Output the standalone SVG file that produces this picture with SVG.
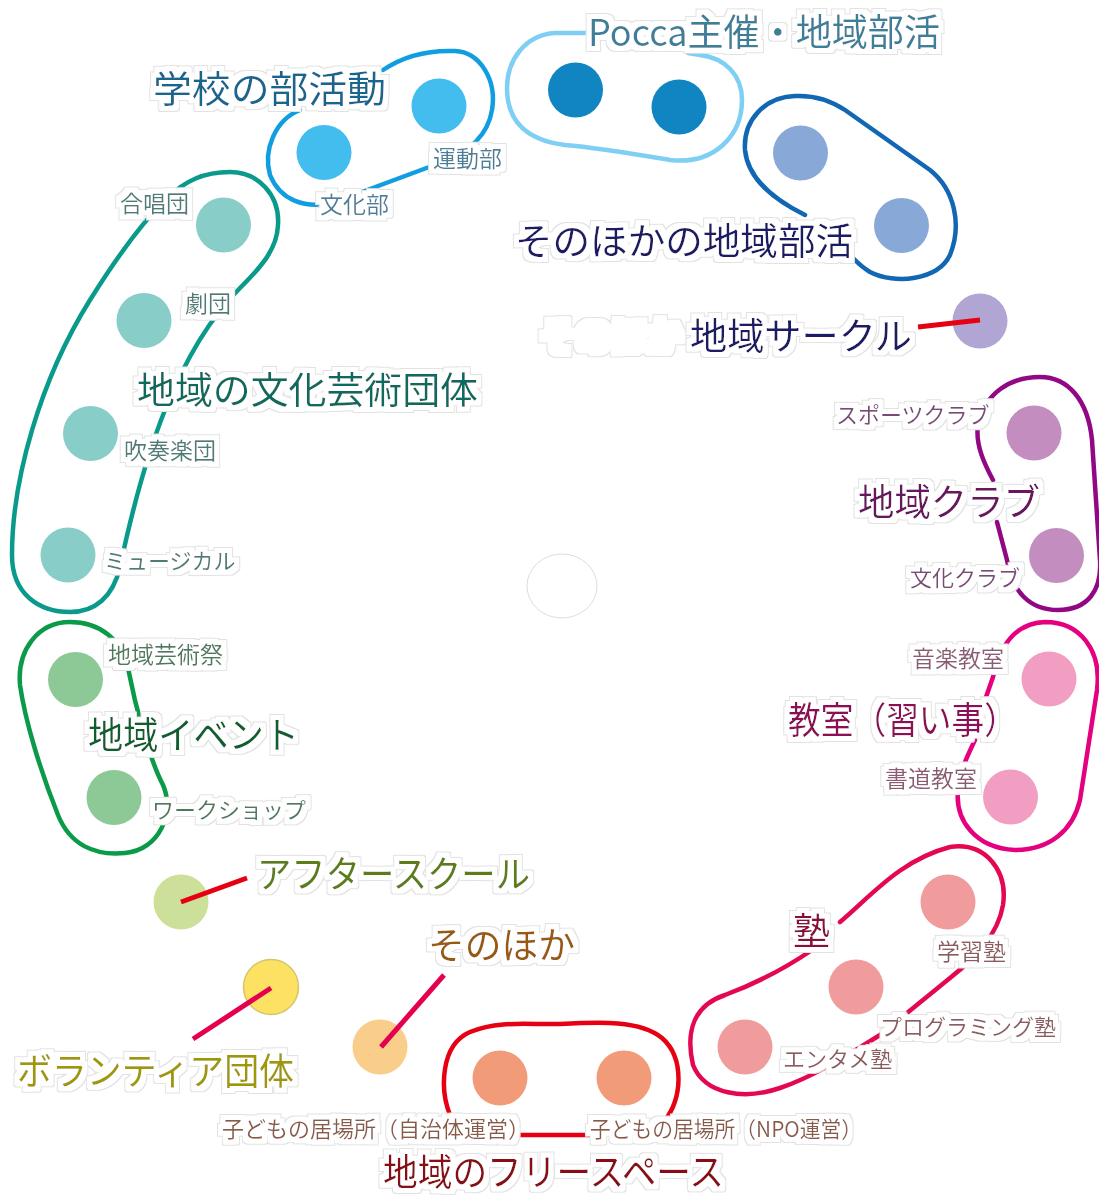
<svg xmlns="http://www.w3.org/2000/svg" width="1099" height="1195" viewBox="0 0 1099 1195">
<defs>
<filter id="halo" x="-30%" y="-40%" width="160%" height="180%">
<feMorphology in="SourceAlpha" operator="dilate" radius="5.5" result="d1"/>
<feMorphology in="SourceAlpha" operator="dilate" radius="4.5" result="d2"/>
<feFlood flood-color="#e2e2e2" result="g"/>
<feComposite in="g" in2="d1" operator="in" result="gray"/>
<feFlood flood-color="#ffffff" result="w"/>
<feComposite in="w" in2="d2" operator="in" result="white"/>
<feMerge><feMergeNode in="gray"/><feMergeNode in="white"/><feMergeNode in="SourceGraphic"/></feMerge>
</filter>
</defs>
<style>
text{font-family:"Noto Sans CJK JP","Noto Sans",sans-serif;filter:url(#halo)}
.big{font-size:37px}
.sm{font-size:23px}
.sk{font-size:22px}
.loop{fill:none;stroke-width:4.5;stroke-linecap:round;stroke-linejoin:round}
.con{stroke-width:5;fill:none}
</style>
<rect width="1099" height="1195" fill="#ffffff"/>

<g id="center"><ellipse cx="562" cy="586" rx="35" ry="32" fill="#ffffff" stroke="#dddddd" stroke-width="1"/></g>

<g id="pocca">
<path class="loop" stroke="#7fcff4" d="M588,33 L555,33 C525,35 507,60 507,88 C507,120 525,140 565,145 C600,148 640,155 670,160 C715,165 742,135 742,100 C742,75 725,58 700,55 L688,53"/>
<circle cx="575.5" cy="90" r="27.5" fill="#1185c2"/>
<circle cx="679" cy="107" r="27.5" fill="#1185c2"/>
<text class="big" x="588" y="46" fill="#3e7f99" textLength="352" lengthAdjust="spacingAndGlyphs">Pocca主催・地域部活</text>
</g>

<g id="school">
<path class="loop" stroke="#119ee0" d="M300,110 C275,120 263,150 270,175 C280,200 305,210 335,202 L440,163 C470,152 488,135 492,110 C497,80 480,52 455,51 C430,50 405,55 383,70"/>
<g id="undou"><circle cx="439" cy="106" r="27.5" fill="#42bdee"/><text class="sm" x="433" y="167" fill="#4c7e98">運動部</text></g>
<g id="bunka"><circle cx="324" cy="152.5" r="27.5" fill="#42bdee"/><text class="sm" x="320" y="213" fill="#4c7e98">文化部</text></g>
<text class="big" x="153" y="103" fill="#14668f" textLength="233" lengthAdjust="spacingAndGlyphs">学校の部活動</text>
</g>

<g id="other-club">
<path class="loop" stroke="#1167b3" d="M805,215 C775,200 748,180 745,150 C743,120 765,97 795,96 C815,95 830,100 845,110 L930,170 C955,190 962,225 950,255 C938,280 895,285 870,272 C860,266 855,260 850,255"/>
<circle cx="800.5" cy="153" r="27.5" fill="#88a9d8"/>
<circle cx="901.5" cy="225.5" r="27.5" fill="#88a9d8"/>
<text class="big" x="515" y="255" fill="#1b1b66" textLength="338" lengthAdjust="spacingAndGlyphs">そのほかの地域部活</text>
</g>

<g id="circle-local">
<circle cx="980" cy="321" r="27.5" fill="#b1a5d3"/>
<text class="big" x="540" y="350" fill="#ffffff" textLength="142" lengthAdjust="spacingAndGlyphs">そのほか</text>
<text class="big" x="690" y="350" fill="#1b1b66" textLength="222" lengthAdjust="spacingAndGlyphs">地域サークル</text>
</g>

<g id="culture">
<path class="loop" stroke="#0a9a8c" d="M230,172 C258,172 280,195 278,225 C277,250 260,268 240,288 C210,318 185,360 165,410 C145,460 130,520 120,567 C113,597 95,612 70,612 C40,612 12,595 12,555 C12,480 40,380 90,300 C115,260 140,225 165,200 C185,180 205,172 230,172 Z"/>
<g id="gassho"><circle cx="223.5" cy="225" r="27.5" fill="#88cdc8"/><text class="sm" x="120" y="212" fill="#4d7b78">合唱団</text></g>
<g id="gekidan"><circle cx="144" cy="320.5" r="27.5" fill="#88cdc8"/><text class="sm" x="185" y="312" fill="#4d7b78">劇団</text></g>
<g id="suisou"><circle cx="90.5" cy="433.5" r="27.5" fill="#88cdc8"/><text class="sm" x="124" y="459" fill="#4d7b78">吹奏楽団</text></g>
<g id="musical"><circle cx="68" cy="555" r="27.5" fill="#88cdc8"/><text class="sk" x="104" y="569" fill="#4d7b78">ミュージカル</text></g>
<text class="big" x="137" y="404" fill="#0c6a5e" textLength="341" lengthAdjust="spacingAndGlyphs">地域の文化芸術団体</text>
</g>

<g id="event">
<path class="loop" stroke="#0a9a48" d="M70,622 C100,622 122,640 128,668 C136,710 150,760 163,785 C175,812 160,850 125,853 C95,856 70,845 58,815 C40,770 25,720 20,685 C17,650 38,622 70,622 Z"/>
<g id="geijutsusai"><circle cx="75.5" cy="679.5" r="27.5" fill="#8dc897"/><text class="sm" x="108" y="663" fill="#4c7a5b">地域芸術祭</text></g>
<g id="workshop"><circle cx="114" cy="797.5" r="27.5" fill="#8dc897"/><text class="sk" x="152" y="818" fill="#4c7a5b">ワークショップ</text></g>
<text class="big" x="88" y="749" fill="#0d5e2d" textLength="211" lengthAdjust="spacingAndGlyphs">地域イベント</text>
</g>

<g id="local-club">
<path class="loop" stroke="#920783" d="M997,522 L1007,560 C1012,592 1030,610 1058,610 C1088,610 1102,590 1100,560 L1092,440 C1088,400 1068,377 1040,377 C1010,377 985,393 978,425 C975,445 985,465 993,480"/>
<g id="sports"><circle cx="1034" cy="433" r="27.5" fill="#c38ebf"/><text class="sk" x="836" y="423" fill="#7a4a77">スポーツクラブ</text></g>
<g id="bunka-club"><circle cx="1056.5" cy="555.5" r="27.5" fill="#c38ebf"/><text class="sk" x="910" y="586" fill="#7a4a77">文化クラブ</text></g>
<text class="big" x="858" y="516" fill="#6b125f" textLength="182" lengthAdjust="spacingAndGlyphs">地域クラブ</text>
</g>

<g id="classroom">
<path class="loop" stroke="#e5007f" d="M985,700 L993,677 C1000,645 1015,623 1045,622 C1080,622 1102,650 1097,690 L1080,800 C1073,830 1050,850 1015,850 C975,848 955,820 958,790 C960,770 968,755 975,740"/>
<g id="music"><circle cx="1049" cy="679" r="27.5" fill="#f19ec2"/><text class="sm" x="912" y="667" fill="#8c5a74">音楽教室</text></g>
<g id="shodo"><circle cx="1010.5" cy="797" r="27.5" fill="#f19ec2"/><text class="sm" x="885" y="787" fill="#8c5a74">書道教室</text></g>
<text class="big" x="788" y="734" fill="#8e0f57" textLength="229" lengthAdjust="spacingAndGlyphs">教室（習い事）</text>
</g>

<g id="juku">
<path class="loop" stroke="#e3084f" d="M840,922 C870,897 900,860 950,847 C985,842 1008,870 1003,905 C998,935 975,958 950,978 L880,1035 C840,1060 810,1078 780,1088 C745,1100 705,1095 693,1065 C685,1030 695,1005 725,995 C760,982 790,965 812,950"/>
<g id="gakushu"><circle cx="948" cy="902" r="27.5" fill="#f09c9c"/><text class="sm" x="937" y="960" fill="#8d5a5e">学習塾</text></g>
<g id="programming"><circle cx="856" cy="987" r="27.5" fill="#f09c9c"/><text class="sk" x="880" y="1035" fill="#8d5a5e">プログラミング塾</text></g>
<g id="entame"><circle cx="745" cy="1047" r="27.5" fill="#f09c9c"/><text class="sk" x="783" y="1067" fill="#8d5a5e">エンタメ塾</text></g>
<text class="big" x="793" y="945" fill="#8a0c3c">塾</text>
</g>

<g id="freespace">
<path class="loop" stroke="#e60012" d="M450,1115 C440,1090 440,1045 470,1032 C500,1020 530,1025 560,1024 C600,1022 640,1020 662,1038 C685,1058 682,1100 665,1120"/>
<path class="loop" stroke="#e60012" d="M520,1135 L595,1135"/>
<g id="ibasho-gov"><circle cx="500" cy="1078" r="27.5" fill="#f19b78"/><text class="sk" x="222" y="1137" fill="#8b5a46">子どもの居場所（自治体運営）</text></g>
<g id="ibasho-npo"><circle cx="624" cy="1078" r="27.5" fill="#f19b78"/><text class="sk" x="590" y="1137" fill="#8b5a46" textLength="272" lengthAdjust="spacingAndGlyphs">子どもの居場所（NPO運営）</text></g>
<text class="big" x="383" y="1186" fill="#8a0f12" textLength="341" lengthAdjust="spacingAndGlyphs">地域のフリースペース</text>
</g>

<g id="afterschool">
<circle cx="181" cy="902" r="27.5" fill="#cce09a"/>
<text class="big" x="257" y="888" fill="#5b7d19" textLength="273" lengthAdjust="spacingAndGlyphs">アフタースクール</text>
</g>

<g id="volunteer">
<circle cx="271" cy="987" r="27.5" fill="#fde162" stroke="#d6c56c" stroke-width="1.5"/>
<text class="big" x="17" y="1085" fill="#a09800" textLength="277" lengthAdjust="spacingAndGlyphs">ボランティア団体</text>
</g>

<g id="others">
<circle cx="380" cy="1047" r="27.5" fill="#f9cd8a"/>
<text class="big" x="428" y="959" fill="#9a5a0c" textLength="147" lengthAdjust="spacingAndGlyphs">そのほか</text>
</g>

<g id="connectors">
<line class="con" stroke="#e60012" x1="918" y1="327" x2="980" y2="320"/>
<line class="con" stroke="#e60012" x1="181" y1="902" x2="247" y2="878"/>
<line class="con" stroke="#e4004f" x1="271" y1="988" x2="193" y2="1039"/>
<line class="con" stroke="#e4004f" x1="381" y1="1047" x2="444" y2="975"/>
</g>
</svg>
